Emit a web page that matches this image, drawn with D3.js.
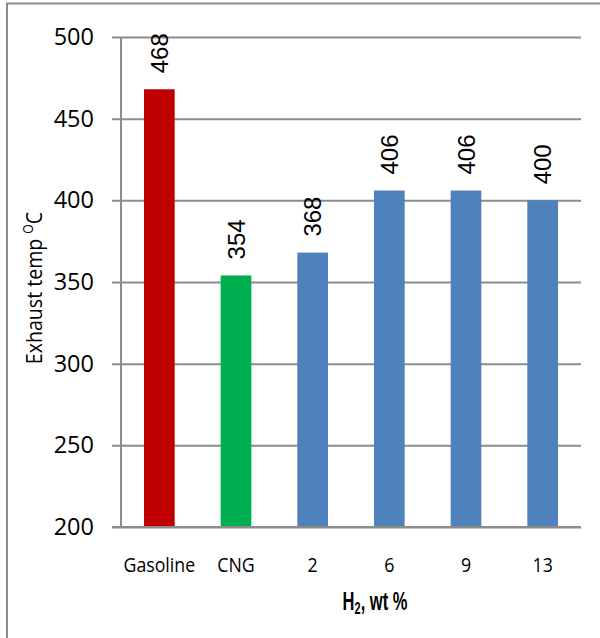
<!DOCTYPE html>
<html>
<head>
<meta charset="utf-8">
<script src="https://cdn.jsdelivr.net/npm/d3@7"></script>
<style>
  html, body { margin: 0; padding: 0; background: #fff; }
  svg { display: block; }
</style>
</head>
<body>
<svg id="chart" width="600" height="638"></svg>
<script>
// Exhaust temperature by fuel / hydrogen blend
const categories = ["Gasoline", "CNG", "2", "6", "9", "13"];
const values = [468, 354, 368, 406, 406, 400];
const barColors = ["#C00000", "#00B050", "#4F81BD", "#4F81BD", "#4F81BD", "#4F81BD"];
const yTicks = [200, 250, 300, 350, 400, 450, 500];

const svg = d3.select("#chart");
const W = 600, H = 638;
const plot = { left: 121, right: 581, top: 37, bottom: 527 };
const gridColor = "#8c8c8c";

// Outer chart frame (top and left edges visible)
svg.append("path")
  .attr("d", `M7,${H} L7,3.5 L${W},3.5`)
  .attr("fill", "none")
  .attr("stroke", gridColor)
  .attr("stroke-width", 2);

const x = d3.scaleBand()
  .domain(categories)
  .range([plot.left, plot.right])
  .paddingInner(0.6)
  .paddingOuter(0.3);

const y = d3.scaleLinear()
  .domain([200, 500])
  .range([plot.bottom, plot.top]);

// Horizontal gridlines with tick marks and labels
const yAxis = d3.axisLeft(y)
  .tickValues(yTicks)
  .tickSize(-(plot.right - plot.left))
  .tickSizeOuter(0)
  .tickPadding(18)
  .tickFormat(d3.format("d"));

const gy = svg.append("g")
  .attr("transform", `translate(${plot.left},0)`)
  .call(yAxis);
gy.select(".domain").remove();
gy.selectAll(".tick line")
  .attr("x1", -9)
  .attr("stroke", gridColor)
  .attr("stroke-width", 2);
gy.selectAll(".tick text")
  .attr("x", -27)
  .attr("font-family", "'Open Sans', sans-serif")
  .attr("font-size", 23.5)
  .attr("fill", "#000");

// Vertical axis line
svg.append("line")
  .attr("x1", plot.left).attr("x2", plot.left)
  .attr("y1", plot.top).attr("y2", plot.bottom)
  .attr("stroke", gridColor)
  .attr("stroke-width", 2);

// Bars
svg.append("g").selectAll("rect")
  .data(categories)
  .join("rect")
  .attr("x", d => x(d))
  .attr("width", x.bandwidth())
  .attr("y", (d, i) => y(values[i]))
  .attr("height", (d, i) => y(200) - y(values[i]))
  .attr("fill", (d, i) => barColors[i]);

// Bottom gridline drawn over the bars
svg.append("line")
  .attr("x1", plot.left - 9).attr("x2", plot.right)
  .attr("y1", y(200)).attr("y2", y(200))
  .attr("stroke", gridColor)
  .attr("stroke-width", 2);

// Value labels, rotated above each bar
svg.append("g").selectAll("text")
  .data(categories)
  .join("text")
  .attr("transform", (d, i) =>
    `translate(${x(d) + x.bandwidth() / 2},${y(values[i]) - 16}) rotate(-90)`)
  .attr("dy", "0.36em")
  .attr("text-anchor", "start")
  .attr("font-family", "'Liberation Sans', Arial, sans-serif")
  .attr("font-size", 24)
  .attr("fill", "#000")
  .text((d, i) => values[i]);

// Category labels
svg.append("g").selectAll("text")
  .data(categories)
  .join("text")
  .attr("transform", d => `translate(${x(d) + x.bandwidth() / 2},572) scale(0.91,1)`)
  .attr("text-anchor", "middle")
  .attr("font-family", "'Open Sans', sans-serif")
  .attr("font-size", 19.5)
  .attr("fill", "#000")
  .text(d => d);

// Y-axis title with superscript degree mark
const yt = svg.append("text")
  .attr("transform", "translate(42,288) rotate(-90) scale(0.87,1)")
  .attr("text-anchor", "middle")
  .attr("font-family", "'Open Sans', sans-serif")
  .attr("font-size", 22.5)
  .attr("fill", "#000");
yt.append("tspan").text("Exhaust temp ");
yt.append("tspan").attr("font-size", 14).attr("dy", -9).text("O");
yt.append("tspan").attr("dy", 9).text("C");

// X-axis title with subscript
const xt = svg.append("text")
  .attr("transform", "translate(375,609.5) scale(1,1.55)")
  .attr("text-anchor", "middle")
  .attr("font-family", "'Liberation Sans Narrow', 'Arial Narrow', sans-serif")
  .attr("font-weight", "bold")
  .attr("font-size", 16.5)
  .attr("fill", "#000");
xt.append("tspan").text("H");
xt.append("tspan").attr("font-size", 11).attr("dy", 3).text("2");
xt.append("tspan").attr("dy", -3).text(", wt %");
</script>
</body>
</html>
